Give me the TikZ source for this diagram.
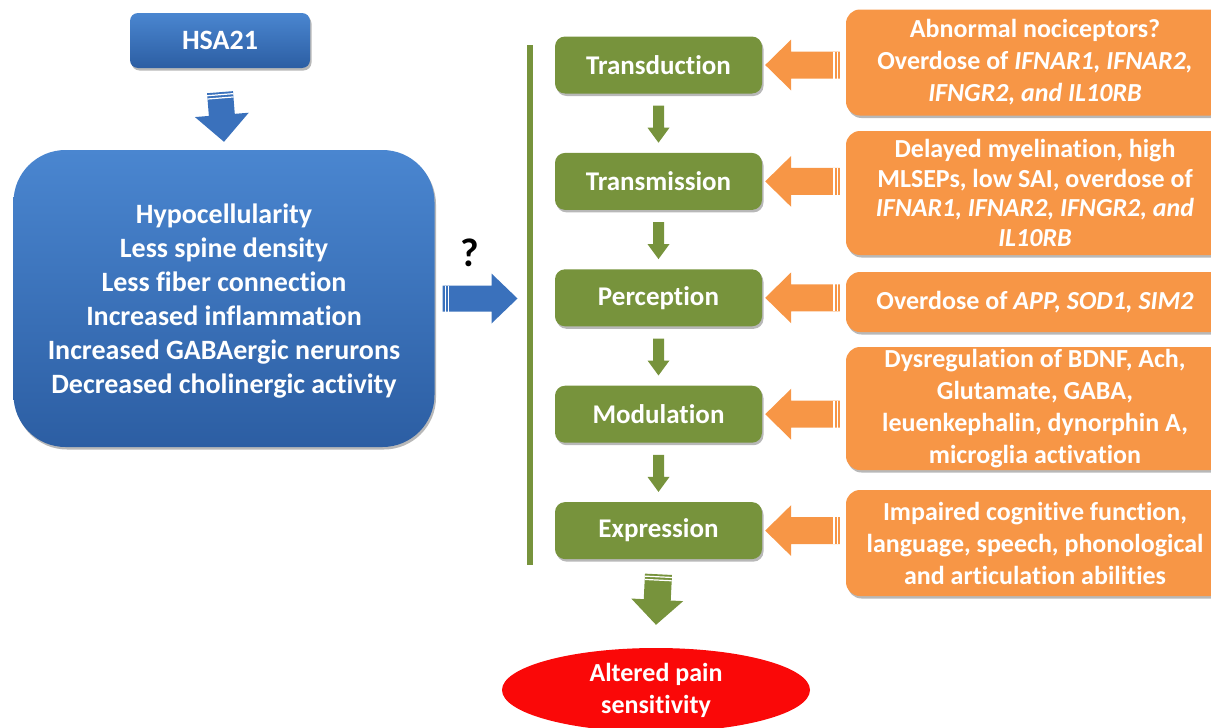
\documentclass[tikz,border=0pt]{standalone}
\usepackage{fontspec}
\setmainfont{Carlito}[Ligatures={NoCommon,NoContextual}]
\usetikzlibrary{calc,shadows,shapes.geometric}

\definecolor{bluetop}{RGB}{74,134,208}
\definecolor{bluebot}{RGB}{44,94,163}
\definecolor{bluearr}{RGB}{58,113,188}
\definecolor{olivegreen}{RGB}{119,147,60}
\definecolor{obox}{RGB}{247,150,70}
\definecolor{redell}{RGB}{250,8,8}

% block arrow from tail #1 to tip #2: half shaft #3, half head #4, head length #5, colour #6
\newcommand\blockarr[6]{%
  \coordinate (ba) at ($(#2)!#5!(#1)$);
  \fill[#6] ($(#1)!#3!90:(#2)$) -- ($(ba)!#3!-90:(#1)$) -- ($(ba)!#4!-90:(#1)$) -- (#2)
    -- ($(ba)!#4!90:(#1)$) -- ($(ba)!#3!90:(#1)$) -- ($(#1)!#3!-90:(#2)$) -- cycle;
}
% white stripes across the tail of a block arrow
\newcommand\tailstripes[3]{%
  \coordinate (sa) at ($(#1)!2.5pt!(#2)$);
  \coordinate (sb) at ($(#1)!5.8pt!(#2)$);
  \draw[white, line width=1.2pt] ($(sa)!#3!90:(#2)$) -- ($(sa)!#3!-90:(#2)$);
  \draw[white, line width=1.2pt] ($(sb)!#3!90:(#2)$) -- ($(sb)!#3!-90:(#2)$);
}

\begin{document}
\begin{tikzpicture}[x=1pt,y=-1pt,
  shadowed/.style={drop shadow={shadow xshift=1.5pt,shadow yshift=-2.5pt,opacity=0.28,fill=black}},
  bluebox/.style={shadowed, top color=bluetop, bottom color=bluebot, draw=none, text=white, align=center, inner sep=0pt},
  greenbox/.style={shadowed, fill=olivegreen, rounded corners=10pt, minimum width=207pt, minimum height=57pt,
    text=white, font=\fontsize{27}{30}\selectfont\bfseries, inner sep=0pt},
  orangebox/.style={shadowed, fill=obox, rounded corners=14pt, minimum width=378pt, text=white, align=center,
    font=\fontsize{26}{32}\selectfont\bfseries, inner sep=0pt},
]
\useasboundingbox (0,0) rectangle (1211,728);
\clip (0,0) rectangle (1211,728);

% left column
\node[bluebox, rounded corners=8pt, minimum width=180pt, minimum height=55pt,
  font=\fontsize{28}{32}\selectfont\bfseries] (hsa) at (220,40.5) {HSA21};
\node[bluebox, rounded corners=52pt, minimum width=421pt, minimum height=297pt] (big) at (224,298.5) {};
\node[text=white, align=center, inner sep=0pt, font=\fontsize{28}{34}\selectfont\bfseries] (bigtext) at (224,301.5)
  {Hypocellularity\\Less spine density\\Less fiber connection\\Increased inflammation\\Increased GABAergic nerurons\\Decreased cholinergic activity};

\node[font=\fontsize{40}{44}\selectfont\bfseries] (q) at (470,253) {?};

% vertical line
\coordinate (vt) at (529.5,45);
\coordinate (vb) at (529.5,565);
\draw[olivegreen, line width=6pt] (vt) -- (vb);

% green stages
\node[greenbox] (g1) at (658.5,65) {Transduction};
\node[greenbox] (g2) at (658.5,181.4) {Transmission};
\node[greenbox] (g3) at (658.5,297.8) {Perception};
\node[greenbox] (g4) at (658.5,414.2) {Modulation};
\node[greenbox] (g5) at (658.5,530.6) {Expression};

% orange boxes
\node[orangebox, minimum height=106pt] (o1) at (1035,62.5)
  {Abnormal nociceptors?\\Overdose of \textit{IFNAR1, IFNAR2,}\\\textit{IFNGR2, and IL10RB}};
\node[orangebox, minimum height=124pt, font=\fontsize{26}{29.5}\selectfont\bfseries] (o2) at (1035,193)
  {Delayed myelination, high\\MLSEPs, low SAI, overdose of\\\textit{IFNAR1, IFNAR2, IFNGR2, and}\\\textit{IL10RB}};
\node[orangebox, minimum height=60pt] (o3) at (1035,302)
  {Overdose of \textit{APP, SOD1, SIM2}};
\node[orangebox, minimum height=123pt] (o4) at (1035,408.5)
  {Dysregulation of BDNF, Ach,\\Glutamate, GABA,\\leuenkephalin, dynorphin A,\\microglia activation};
\node[orangebox, minimum height=106pt] (o5) at (1035,543)
  {Impaired cognitive function,\\language, speech, phonological\\and articulation abilities};

% result
\node[ellipse, fill=redell, minimum width=308pt, minimum height=84pt, inner sep=0pt, text=white, align=center,
  font=\fontsize{26}{32}\selectfont\bfseries] (ell) at (656,690) {Altered pain\\sensitivity};

% blue arrows
\coordinate (a0s) at ($(hsa.south)+(0,24)$);
\coordinate (a0e) at ($(big.north)+(0,-8)$);
\blockarr{a0s}{a0e}{13pt}{27pt}{27pt}{bluearr}
\tailstripes{a0s}{a0e}{13pt}

\coordinate (a1s) at ($(big.east)+(8,0)$);
\coordinate (a1e) at ($(vt |- big.east)+(-12,0)$);
\blockarr{a1s}{a1e}{13pt}{25pt}{26pt}{bluearr}
\tailstripes{a1s}{a1e}{13pt}

% small green arrows
\foreach \i/\j in {1/2,2/3,3/4,4/5}{
  \coordinate (gs\i) at ($(g\i.south)+(0,12)$);
  \coordinate (ge\i) at ($(g\j.north)+(0,-10)$);
  \blockarr{gs\i}{ge\i}{5.5pt}{11pt}{15pt}{olivegreen}
}

% big green arrow
\coordinate (gs5) at ($(g5.south)+(0,15)$);
\coordinate (ge5) at ($(ell.north)+(0,-23)$);
\blockarr{gs5}{ge5}{13.5pt}{26pt}{25pt}{olivegreen}
\tailstripes{gs5}{ge5}{13.5pt}

% orange arrows
\foreach \i in {1,...,5}{
  \coordinate (os\i) at ($(o\i.west |- g\i.east)+(-6,0)$);
  \coordinate (oe\i) at ($(g\i.east)+(3,0)$);
  \blockarr{os\i}{oe\i}{13.5pt}{25.5pt}{26pt}{obox}
  \tailstripes{os\i}{oe\i}{13.5pt}
}
\end{tikzpicture}
\end{document}
